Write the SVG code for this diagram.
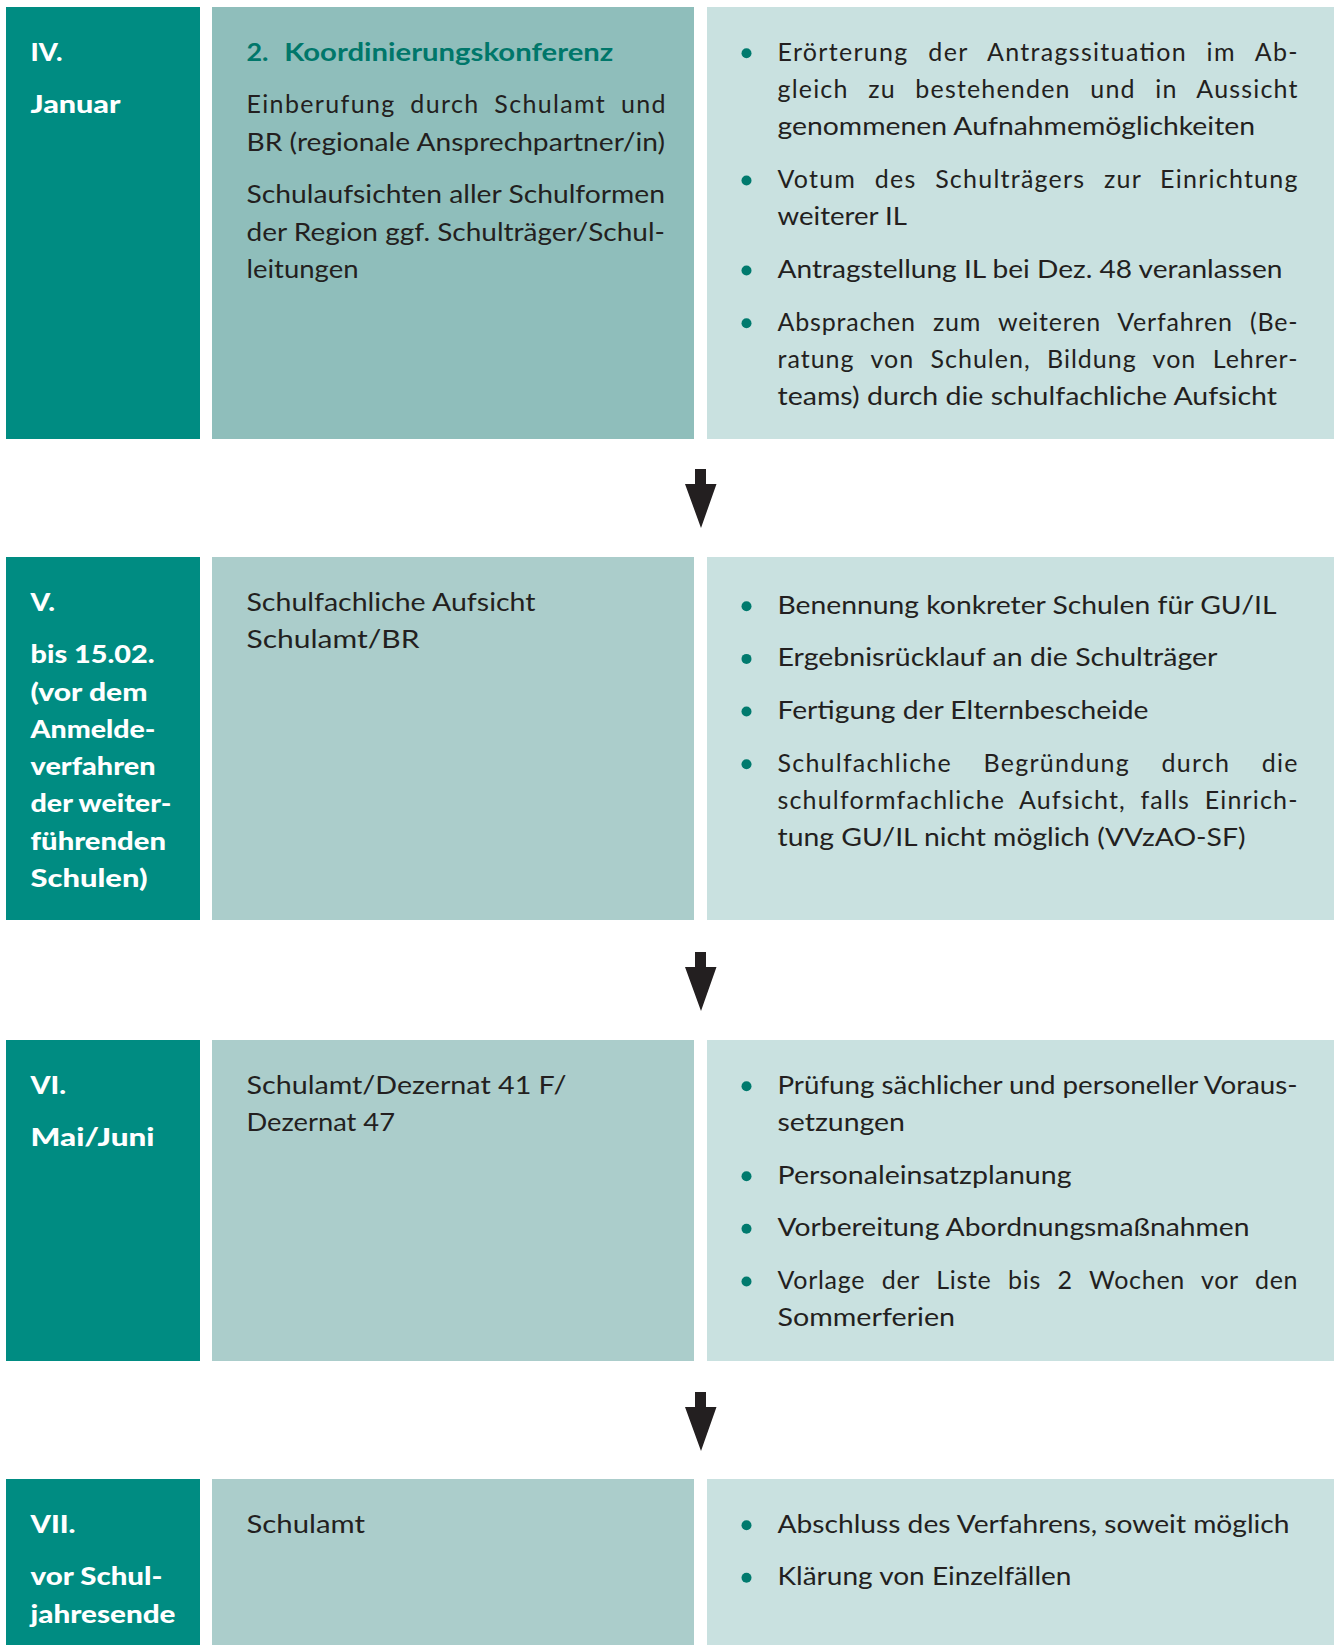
<svg xmlns="http://www.w3.org/2000/svg" width="1334" height="1645" viewBox="0 0 1334 1645">
<style>
.bg{fill:#fff}
.c1{fill:#008C82}
.c2a{fill:#8FBEBB}
.c2{fill:#ABCDCB}
.c3{fill:#C9E1E0}
.lt{fill:#fff;font-family:Lato,"Liberation Sans",sans-serif;font-weight:900;font-size:25px}
.tx{fill:#231F20;font-family:Lato,"Liberation Sans",sans-serif;font-weight:400;font-size:25px}
.ti{fill:#00776A;font-family:Lato,"Liberation Sans",sans-serif;font-weight:700;font-size:25.5px}
.bu{fill:#007A6E}
.arr{fill:#231F20}
</style>
<defs>
<path id="arrow" d="M-5.5,0 H5.5 V15 H16 L0.5,59 L-15.5,15 H-5.5 Z"/>
</defs>
<rect class="bg" x="0" y="0" width="1334" height="1645"/>

<g id="row4-date">
<rect class="c1" x="6" y="7" width="194" height="432"/>
<text class="lt" x="30.5" y="60.7" textLength="32" lengthAdjust="spacingAndGlyphs">IV.</text>
<text class="lt" x="30.5" y="113.3" textLength="90" lengthAdjust="spacingAndGlyphs">Januar</text>
</g>
<g id="row4-who">
<rect class="c2a" x="212" y="7" width="482" height="432"/>
<text class="ti" x="246.5" y="60.7" textLength="22" lengthAdjust="spacingAndGlyphs">2.</text>
<text class="ti" x="284.3" y="60.7" textLength="329" lengthAdjust="spacingAndGlyphs">Koordinierungskonferenz</text>
<text class="tx" x="246.5" y="113.3" style="word-spacing:7px" textLength="419" lengthAdjust="spacing">Einberufung durch Schulamt und</text>
<text class="tx" x="246.5" y="150.7" textLength="418.5" lengthAdjust="spacingAndGlyphs">BR (regionale Ansprechpartner/in)</text>
<text class="tx" x="246.5" y="203.3" textLength="418.5" lengthAdjust="spacingAndGlyphs">Schulaufsichten aller Schulformen</text>
<text class="tx" x="246.5" y="240.7" textLength="418.5" lengthAdjust="spacingAndGlyphs">der Region ggf. Schulträger/Schul-</text>
<text class="tx" x="246.5" y="278" textLength="112" lengthAdjust="spacingAndGlyphs">leitungen</text>
</g>
<g id="row4-tasks">
<rect class="c3" x="707" y="7" width="627" height="432"/>
<circle class="bu" cx="746.5" cy="53.2" r="5"/>
<circle class="bu" cx="746.5" cy="180.5" r="5"/>
<circle class="bu" cx="746.5" cy="270.5" r="5"/>
<circle class="bu" cx="746.5" cy="323.2" r="5"/>
<text class="tx" x="777.5" y="60.7" style="word-spacing:12px" textLength="520" lengthAdjust="spacing">Erörterung der Antragssituation im Ab-</text>
<text class="tx" x="777.5" y="98" style="word-spacing:12px" textLength="520" lengthAdjust="spacing">gleich zu bestehenden und in Aussicht</text>
<text class="tx" x="777.5" y="135.3" textLength="477.5" lengthAdjust="spacingAndGlyphs">genommenen Aufnahmemöglichkeiten</text>
<text class="tx" x="777.5" y="188" style="word-spacing:11px" textLength="520" lengthAdjust="spacing">Votum des Schulträgers zur Einrichtung</text>
<text class="tx" x="777.5" y="225.3" textLength="129.5" lengthAdjust="spacingAndGlyphs">weiterer IL</text>
<text class="tx" x="777.5" y="278" textLength="505" lengthAdjust="spacingAndGlyphs">Antragstellung IL bei Dez. 48 veranlassen</text>
<text class="tx" x="777.5" y="330.7" style="word-spacing:10px" textLength="520" lengthAdjust="spacing">Absprachen zum weiteren Verfahren (Be-</text>
<text class="tx" x="777.5" y="368" style="word-spacing:9px" textLength="520" lengthAdjust="spacing">ratung von Schulen, Bildung von Lehrer-</text>
<text class="tx" x="777.5" y="405.3" textLength="499.5" lengthAdjust="spacingAndGlyphs">teams) durch die schulfachliche Aufsicht</text>
</g>

<g id="row5-date">
<rect class="c1" x="6" y="557" width="194" height="363"/>
<text class="lt" x="30.5" y="610.7" textLength="24.5" lengthAdjust="spacingAndGlyphs">V.</text>
<text class="lt" x="30.5" y="663" textLength="124" lengthAdjust="spacingAndGlyphs">bis 15.02.</text>
<text class="lt" x="30.5" y="700.5" textLength="117" lengthAdjust="spacingAndGlyphs">(vor dem</text>
<text class="lt" x="30.5" y="737.8" textLength="125" lengthAdjust="spacingAndGlyphs">Anmelde-</text>
<text class="lt" x="30.5" y="775.1" textLength="125" lengthAdjust="spacingAndGlyphs">verfahren</text>
<text class="lt" x="30.5" y="812.4" textLength="141" lengthAdjust="spacingAndGlyphs">der weiter-</text>
<text class="lt" x="30.5" y="849.7" textLength="135.5" lengthAdjust="spacingAndGlyphs">führenden</text>
<text class="lt" x="30.5" y="887" textLength="117" lengthAdjust="spacingAndGlyphs">Schulen)</text>
</g>
<g id="row5-who">
<rect class="c2" x="212" y="557" width="482" height="363"/>
<text class="tx" x="246.5" y="610.7" textLength="289" lengthAdjust="spacingAndGlyphs">Schulfachliche Aufsicht</text>
<text class="tx" x="246.5" y="648" textLength="173" lengthAdjust="spacingAndGlyphs">Schulamt/BR</text>
</g>
<g id="row5-tasks">
<rect class="c3" x="707" y="557" width="627" height="363"/>
<circle class="bu" cx="746.5" cy="606.3" r="5"/>
<circle class="bu" cx="746.5" cy="658.9" r="5"/>
<circle class="bu" cx="746.5" cy="711.5" r="5"/>
<circle class="bu" cx="746.5" cy="764.2" r="5"/>
<text class="tx" x="777.5" y="613.8" textLength="499" lengthAdjust="spacingAndGlyphs">Benennung konkreter Schulen für GU/IL</text>
<text class="tx" x="777.5" y="666.4" textLength="440" lengthAdjust="spacingAndGlyphs">Ergebnisrücklauf an die Schulträger</text>
<text class="tx" x="777.5" y="719" textLength="371" lengthAdjust="spacingAndGlyphs">Fertigung der Elternbescheide</text>
<text class="tx" x="777.5" y="771.7" style="word-spacing:24px" textLength="520" lengthAdjust="spacing">Schulfachliche Begründung durch die</text>
<text class="tx" x="777.5" y="809" style="word-spacing:7px" textLength="520" lengthAdjust="spacing">schulformfachliche Aufsicht, falls Einrich-</text>
<text class="tx" x="777.5" y="846.3" textLength="468" lengthAdjust="spacingAndGlyphs">tung GU/IL nicht möglich (VVzAO-SF)</text>
</g>

<g id="row6-date">
<rect class="c1" x="6" y="1040" width="194" height="321"/>
<text class="lt" x="30.5" y="1093.7" textLength="35.5" lengthAdjust="spacingAndGlyphs">VI.</text>
<text class="lt" x="30.5" y="1146.3" textLength="124" lengthAdjust="spacingAndGlyphs">Mai/Juni</text>
</g>
<g id="row6-who">
<rect class="c2" x="212" y="1040" width="482" height="321"/>
<text class="tx" x="246.5" y="1093.7" textLength="320" lengthAdjust="spacingAndGlyphs">Schulamt/Dezernat 41 F/</text>
<text class="tx" x="246.5" y="1131" textLength="148.5" lengthAdjust="spacingAndGlyphs">Dezernat 47</text>
</g>
<g id="row6-tasks">
<rect class="c3" x="707" y="1040" width="627" height="321"/>
<circle class="bu" cx="746.5" cy="1086.2" r="5"/>
<circle class="bu" cx="746.5" cy="1176.2" r="5"/>
<circle class="bu" cx="746.5" cy="1228.8" r="5"/>
<circle class="bu" cx="746.5" cy="1281.5" r="5"/>
<text class="tx" x="777.5" y="1093.7" textLength="520" lengthAdjust="spacingAndGlyphs">Prüfung sächlicher und personeller Voraus-</text>
<text class="tx" x="777.5" y="1131" textLength="127.5" lengthAdjust="spacingAndGlyphs">setzungen</text>
<text class="tx" x="777.5" y="1183.7" textLength="294" lengthAdjust="spacingAndGlyphs">Personaleinsatzplanung</text>
<text class="tx" x="777.5" y="1236.3" textLength="472" lengthAdjust="spacingAndGlyphs">Vorbereitung Abordnungsmaßnahmen</text>
<text class="tx" x="777.5" y="1289" style="word-spacing:9.5px" textLength="520" lengthAdjust="spacing">Vorlage der Liste bis 2 Wochen vor den</text>
<text class="tx" x="777.5" y="1326.3" textLength="177.5" lengthAdjust="spacingAndGlyphs">Sommerferien</text>
</g>

<g id="row7-date">
<rect class="c1" x="6" y="1479" width="194" height="166"/>
<text class="lt" x="30.5" y="1532.7" textLength="45" lengthAdjust="spacingAndGlyphs">VII.</text>
<text class="lt" x="30.5" y="1585.3" textLength="132" lengthAdjust="spacingAndGlyphs">vor Schul-</text>
<text class="lt" x="30.5" y="1622.7" textLength="145" lengthAdjust="spacingAndGlyphs">jahresende</text>
</g>
<g id="row7-who">
<rect class="c2" x="212" y="1479" width="482" height="166"/>
<text class="tx" x="246.5" y="1532.7" textLength="118.5" lengthAdjust="spacingAndGlyphs">Schulamt</text>
</g>
<g id="row7-tasks">
<rect class="c3" x="707" y="1479" width="627" height="166"/>
<circle class="bu" cx="746.5" cy="1525.2" r="5"/>
<circle class="bu" cx="746.5" cy="1577.8" r="5"/>
<text class="tx" x="777.5" y="1532.7" textLength="512" lengthAdjust="spacingAndGlyphs">Abschluss des Verfahrens, soweit möglich</text>
<text class="tx" x="777.5" y="1585.3" textLength="294" lengthAdjust="spacingAndGlyphs">Klärung von Einzelfällen</text>
</g>

<g id="connectors">
<use href="#arrow" class="arr" transform="translate(700.5,469)"/>
<use href="#arrow" class="arr" transform="translate(700.5,952)"/>
<use href="#arrow" class="arr" transform="translate(700.5,1392)"/>
</g>
</svg>
